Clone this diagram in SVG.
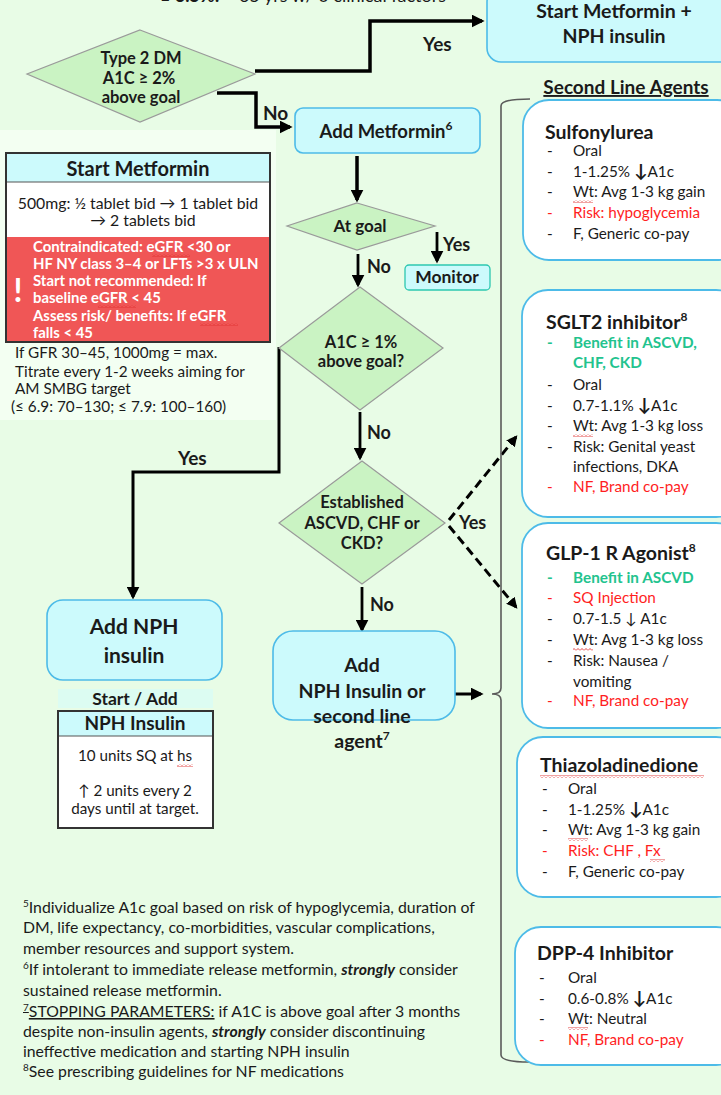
<svg xmlns="http://www.w3.org/2000/svg" width="721" height="1095" viewBox="0 0 721 1095">
<defs>
<marker id="ah" viewBox="0 0 10 10" markerUnits="userSpaceOnUse" markerWidth="13" markerHeight="13" refX="8" refY="5" orient="auto"><path d="M0,0 L10,5 L0,10 z" fill="#000"/></marker>
<marker id="ahs" viewBox="0 0 10 10" markerUnits="userSpaceOnUse" markerWidth="11" markerHeight="11" refX="8" refY="5" orient="auto"><path d="M0,0 L10,5 L0,10 z" fill="#000"/></marker>
<pattern id="sq" width="4" height="3" patternUnits="userSpaceOnUse"><path d="M0,2.5 L2,0.5 L4,2.5" fill="none" stroke="#e03030" stroke-width="0.9"/></pattern>
</defs>
<style>
text{font-family:Lato,"Liberation Sans",sans-serif;fill:#1a1a1a}
.b{font-weight:bold}
.c{text-anchor:middle}
.dia{fill:#caf3c3;stroke:#9a9a9a;stroke-width:1.2}
.box{fill:#ccfafc;stroke:#4dbbe8;stroke-width:1.6}
.card{fill:#ffffff;stroke:#4dbbe8;stroke-width:1.8}
.ln{fill:none;stroke:#000;stroke-width:3.5;marker-end:url(#ah)}
.dash{fill:none;stroke:#000;stroke-width:3;stroke-dasharray:9 5;marker-end:url(#ahs)}
.lbl{font-weight:bold;font-size:19px}
.lbs{font-weight:bold;font-size:18px}
.item{font-size:15.3px}
.ttl{font-weight:bold;font-size:19.5px}
.red{fill:#ff1e1e}
.grn{fill:#22c38e;font-weight:bold}
.wt{fill:#fff;font-weight:bold;font-size:14.9px}
.excl{fill:#fff;font-weight:bold;font-size:32px;text-anchor:middle}
.fn{font-size:15.8px}
.sq{fill:url(#sq)}
</style>
<rect x="0" y="0" width="721" height="1095" fill="#e8fce6"/>
<rect x="0" y="130" width="276" height="290" fill="#f3fff2"/>

<text x="160" y="2" font-size="18"><tspan class="b">≥ 6.5%:</tspan> &lt; 65 yrs w/ 0 clinical factors</text>

<g id="connectors">
<path class="ln" d="M255,71 H370 V21 H482"/>
<path class="ln" d="M217,93 H256 V127 H290"/>
<path class="ln" d="M357,156 V200"/>
<path class="ln" style="stroke-width:2.8" d="M437,232 V261"/>
<path class="ln" style="stroke-width:2.8" d="M358,254 V285"/>
<path class="ln" style="stroke-width:3" d="M279,347 V472 H133 V597"/>
<path class="ln" style="stroke-width:2.8" d="M360,412 V458"/>
<path class="dash" d="M449,520 L516,437"/>
<path class="dash" d="M449,526 L516,607"/>
<path class="ln" style="stroke-width:2.8" d="M362,587 V630"/>
<path class="ln" style="stroke-width:3" d="M455,694 H481"/>
<path d="M530,99 Q501,99 501,106 V688 Q501,694 492,694 Q501,694 501,700 V1055 Q501,1062 530,1062" fill="none" stroke="#5a5a5a" stroke-width="1.6"/>
<text x="423" y="51" class="lbl">Yes</text>
<text x="263" y="120" class="lbl">No</text>
<text x="443" y="251" class="lbs">Yes</text>
<text x="367" y="273" class="lbs">No</text>
<text x="178" y="465" class="lbl">Yes</text>
<text x="367" y="439" class="lbs">No</text>
<text x="459" y="529" class="lbs">Yes</text>
<text x="370" y="611" class="lbs">No</text>
</g>

<g id="start-metformin-nph">
<rect class="box" x="487" y="-12" width="250" height="74" rx="14"/>
<text x="614" y="18" class="b c" font-size="19.5">Start Metformin +</text>
<text x="614" y="43" class="b c" font-size="19.5">NPH insulin</text>
</g>

<g id="type2dm">
<polygon class="dia" points="140,30 255,74 140,122 27,74"/>
<text x="141" y="64" class="b c" font-size="16.5">Type 2 DM</text>
<text x="139" y="84" class="b c" font-size="16.5">A1C ≥ 2%</text>
<text x="141" y="103" class="b c" font-size="16.5">above goal</text>
</g>

<g id="second-line-title">
<text x="626" y="94" class="b c" font-size="19" text-decoration="underline">Second Line Agents</text>
</g>

<g id="add-metformin">
<rect class="box" x="295" y="108" width="185" height="45" rx="8"/>
<text x="386" y="138" class="b c" font-size="18.5">Add Metformin<tspan font-size="12" dy="-8">6</tspan></text>
</g>

<g id="at-goal">
<polygon class="dia" points="357,203 435,226 357,250 287,226"/>
<text x="360" y="232" class="b c" font-size="17">At goal</text>
</g>

<g id="monitor">
<rect x="405" y="265" width="85" height="25" rx="4" fill="#ccfafc" stroke="#2cc7b0" stroke-width="1.3"/>
<text x="447" y="283" class="b c" font-size="17.5">Monitor</text>
</g>

<g id="a1c-1pct">
<polygon class="dia" points="360,287 443,348 360,410 279,348"/>
<text x="361" y="348" class="b c" font-size="16.5">A1C ≥ 1%</text>
<text x="361" y="367" class="b c" font-size="16.5">above goal?</text>
</g>

<g id="established">
<polygon class="dia" points="362,461 445,523 362,584 279,523"/>
<text x="362" y="508" class="b c" font-size="16.5">Established</text>
<text x="362" y="529" class="b c" font-size="16.5">ASCVD, CHF or</text>
<text x="362" y="549" class="b c" font-size="16.5">CKD?</text>
</g>

<g id="add-nph-or-second">
<rect class="box" x="273" y="631" width="182" height="89" rx="20"/>
<text x="362" y="672" class="b c" font-size="19.5">Add</text>
<text x="362" y="698" class="b c" font-size="19.5">NPH Insulin or</text>
<text x="362" y="723" class="b c" font-size="19.5">second line</text>
<text x="362" y="748" class="b c" font-size="19.5">agent<tspan font-size="12" dy="-8">7</tspan></text>
</g>

<g id="start-metformin">
<rect x="6" y="153" width="264" height="189" fill="#fff" stroke="#333" stroke-width="2"/>
<rect x="7" y="154" width="262" height="28" fill="#ccfafc"/>
<line x1="6" y1="182" x2="270" y2="182" stroke="#555" stroke-width="1"/>
<rect x="7" y="237" width="262" height="104" fill="#f05656"/>
<rect x="6" y="153" width="264" height="189" fill="none" stroke="#333" stroke-width="2"/>
<text x="138" y="176" class="b c" font-size="20">Start Metformin</text>
<text x="138" y="209" class="c" font-size="15.8">500mg: ½ tablet bid → 1 tablet bid</text>
<text x="143" y="226" class="c" font-size="15.8">→ 2 tablets bid</text>
<text x="33" y="252" class="wt">Contraindicated: eGFR &lt;30  or</text>
<text x="33" y="269" class="wt">HF NY class 3–4 or LFTs &gt;3 x ULN</text>
<text x="33" y="286" class="wt">Start not recommended: If</text>
<text x="33" y="303" class="wt">baseline eGFR  &lt; 45</text>
<text x="33" y="321" class="wt">Assess risk/ benefits: If eGFR</text>
<text x="33" y="338" class="wt">falls &lt; 45</text>
<text x="18" y="302" class="excl">!</text>
<rect class="sq" x="152" y="254" width="38" height="3"/>
<rect class="sq" x="98" y="305" width="38" height="3"/>
<rect class="sq" x="200" y="323" width="38" height="3"/>
<text x="15" y="358" font-size="15.3">If GFR 30–45, 1000mg = max.</text>
<text x="15" y="377" font-size="15.3">Titrate every 1-2 weeks aiming for</text>
<text x="15" y="394" font-size="15.3">AM SMBG target</text>
<text x="11" y="412" font-size="15.3">(≤ 6.9: 70–130; ≤  7.9: 100–160)</text>
</g>

<g id="add-nph">
<rect class="box" x="47" y="600" width="175" height="80" rx="16"/>
<text x="134" y="634" class="b c" font-size="21">Add NPH</text>
<text x="134" y="663" class="b c" font-size="21">insulin</text>
</g>

<g id="nph-insulin-table">
<rect x="58" y="689" width="155" height="19" fill="#dcfcf2"/>
<text x="135" y="705" class="b c" font-size="17.5">Start / Add</text>
<rect x="58" y="711" width="155" height="117" fill="#fff"/>
<rect x="59" y="712" width="153" height="24" fill="#ccfafc"/>
<line x1="58" y1="736" x2="213" y2="736" stroke="#555" stroke-width="1"/>
<rect x="58" y="711" width="155" height="117" fill="none" stroke="#333" stroke-width="2"/>
<text x="135" y="730" class="b c" font-size="19">NPH Insulin</text>
<text x="135" y="761" class="c" font-size="15.2">10 units SQ at hs</text>
<rect class="sq" x="177" y="764" width="16" height="3"/>
<text x="135" y="796" class="c" font-size="15.2">↑ 2 units every 2</text>
<text x="135" y="814" class="c" font-size="15.2">days until at target.</text>
</g>

<g id="sulfonylurea">
<rect class="card" x="523" y="100" width="220" height="160" rx="26"/>
<text x="545" y="139" class="ttl">Sulfonylurea</text>
<text x="547" y="156" class="item">-</text><text x="573" y="156" class="item">Oral</text>
<text x="547" y="177" class="item">-</text><text x="573" y="177" class="item">1-1.25% <tspan class="b" font-size="18">↓</tspan>A1c</text>
<text x="547" y="197" class="item">-</text><text x="573" y="197" class="item">Wt: Avg 1-3 kg gain</text>
<text x="547" y="218" class="item red">-</text><text x="573" y="218" class="item red">Risk: hypoglycemia</text>
<text x="547" y="239" class="item">-</text><text x="573" y="239" class="item">F,  Generic co-pay</text>
<rect class="sq" x="573" y="200" width="20" height="3"/>
</g>

<g id="sglt2">
<rect class="card" x="522" y="290" width="220" height="227" rx="26"/>
<text x="546" y="329" class="ttl">SGLT2 inhibitor<tspan font-size="12" dy="-8">8</tspan></text>
<text x="547" y="348" class="item grn">-</text><text x="573" y="348" class="item grn">Benefit in ASCVD,</text>
<text x="573" y="368" class="item grn">CHF,  CKD</text>
<text x="547" y="390" class="item">-</text><text x="573" y="390" class="item">Oral</text>
<text x="547" y="411" class="item">-</text><text x="573" y="411" class="item">0.7-1.1% <tspan class="b" font-size="18">↓</tspan>A1c</text>
<text x="547" y="431" class="item">-</text><text x="573" y="431" class="item">Wt: Avg 1-3 kg  loss</text>
<text x="547" y="452" class="item">-</text><text x="573" y="452" class="item">Risk: Genital yeast</text>
<text x="573" y="472" class="item">infections, DKA</text>
<text x="547" y="492" class="item red">-</text><text x="573" y="492" class="item red">NF, Brand co-pay</text>
<rect class="sq" x="573" y="434" width="20" height="3"/>
</g>

<g id="glp1">
<rect class="card" x="522" y="523" width="220" height="205" rx="26"/>
<text x="546" y="560" class="ttl">GLP-1 R Agonist<tspan font-size="12" dy="-8">8</tspan></text>
<text x="547" y="583" class="item grn">-</text><text x="573" y="583" class="item grn">Benefit in ASCVD</text>
<text x="547" y="603" class="item red">-</text><text x="573" y="603" class="item red">SQ Injection</text>
<text x="547" y="624" class="item">-</text><text x="573" y="624" class="item">0.7-1.5 ↓ A1c</text>
<text x="547" y="645" class="item">-</text><text x="573" y="645" class="item">Wt: Avg 1-3 kg  loss</text>
<text x="547" y="666" class="item">-</text><text x="573" y="666" class="item">Risk: Nausea /</text>
<text x="573" y="687" class="item">vomiting</text>
<text x="547" y="706" class="item red">-</text><text x="573" y="706" class="item red">NF, Brand co-pay</text>
<rect class="sq" x="573" y="648" width="20" height="3"/>
</g>

<g id="thiazoladinedione">
<rect class="card" x="517" y="737" width="225" height="160" rx="26"/>
<text x="540" y="772" class="ttl">Thiazoladinedione</text>
<rect class="sq" x="540" y="775" width="164" height="3"/>
<text x="542" y="794" class="item">-</text><text x="568" y="794" class="item">Oral</text>
<text x="542" y="815" class="item">-</text><text x="568" y="815" class="item">1-1.25% <tspan class="b" font-size="18">↓</tspan>A1c</text>
<text x="542" y="835" class="item">-</text><text x="568" y="835" class="item">Wt: Avg 1-3 kg  gain</text>
<text x="542" y="856" class="item red">-</text><text x="568" y="856" class="item red">Risk:  CHF , Fx</text>
<text x="542" y="877" class="item">-</text><text x="568" y="877" class="item">F, Generic co-pay</text>
<rect class="sq" x="568" y="838" width="20" height="3"/>
<rect class="sq" x="650" y="859" width="15" height="3"/>
</g>

<g id="dpp4">
<rect class="card" x="515" y="927" width="227" height="138" rx="26"/>
<text x="537" y="960" class="ttl">DPP-4 Inhibitor</text>
<text x="539" y="983" class="item">-</text><text x="568" y="983" class="item">Oral</text>
<text x="539" y="1004" class="item">-</text><text x="568" y="1004" class="item">0.6-0.8% <tspan class="b" font-size="18">↓</tspan>A1c</text>
<text x="539" y="1024" class="item">-</text><text x="568" y="1024" class="item">Wt:  Neutral</text>
<text x="539" y="1045" class="item red">-</text><text x="568" y="1045" class="item red">NF, Brand co-pay</text>
<rect class="sq" x="568" y="1027" width="20" height="3"/>
</g>

<g id="footnotes">
<text x="23" y="913" class="fn"><tspan font-size="10" dy="-6">5</tspan><tspan dy="6">Individualize A1c goal based on risk of hypoglycemia, duration of</tspan></text>
<text x="23" y="933" class="fn">DM, life expectancy, co-morbidities, vascular complications,</text>
<text x="23" y="954" class="fn">member  resources and support system.</text>
<text x="23" y="975" class="fn"><tspan font-size="10" dy="-6">6</tspan><tspan dy="6">If intolerant to immediate release metformin, </tspan><tspan font-weight="bold" font-style="italic">strongly</tspan> consider</text>
<text x="23" y="996" class="fn">sustained release metformin.</text>
<text x="23" y="1017" class="fn"><tspan text-decoration="underline"><tspan font-size="10" dy="-6">7</tspan><tspan dy="6">STOPPING PARAMETERS:</tspan></tspan> if A1C is above goal after 3 months</text>
<text x="23" y="1037" class="fn">despite non-insulin agents, <tspan font-weight="bold" font-style="italic">strongly</tspan> consider discontinuing</text>
<text x="23" y="1057" class="fn">ineffective  medication and starting NPH insulin</text>
<text x="23" y="1077" class="fn"><tspan font-size="10" dy="-6">8</tspan><tspan dy="6">See prescribing guidelines for NF medications</tspan></text>
</g>
</svg>
